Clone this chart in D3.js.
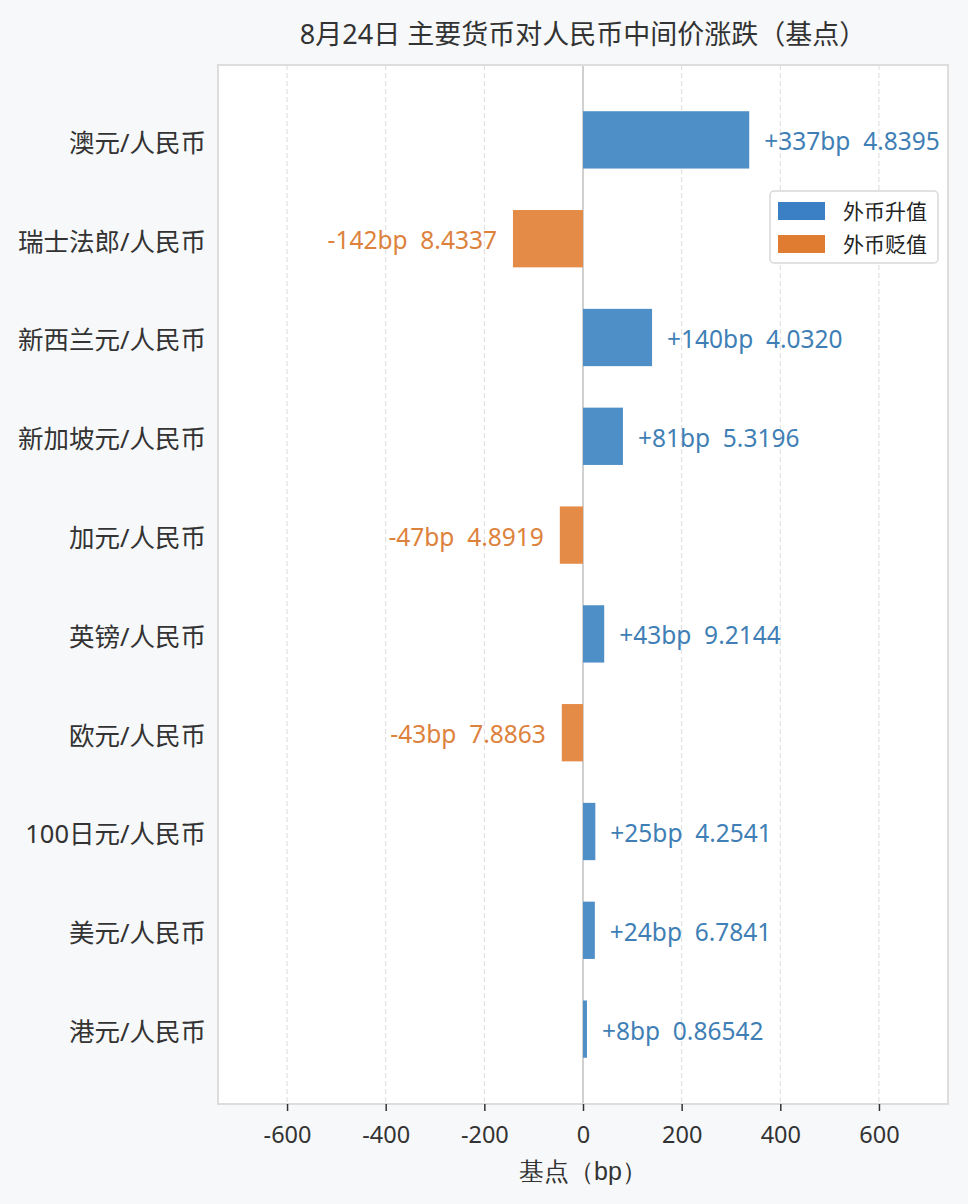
<!DOCTYPE html>
<html>
<head>
<meta charset="utf-8">
<script src="https://cdn.jsdelivr.net/npm/d3@7"></script>
<style>
  body { margin: 0; background: #f7f8fa; }
  svg { display: block; font-family: "Noto Sans", "Noto Sans CJK SC", sans-serif; }
</style>
</head>
<body>
<div id="wrapper"></div>
<script>
// data
let pairs = [
  "澳元/人民币", "瑞士法郎/人民币", "新西兰元/人民币", "新加坡元/人民币", "加元/人民币",
  "英镑/人民币", "欧元/人民币", "100日元/人民币", "美元/人民币", "港元/人民币"
];
let changes = [337, -142, 140, 81, -47, 43, -43, 25, 24, 8];
let midRates = ["4.8395", "8.4337", "4.0320", "5.3196", "4.8919", "9.2144", "7.8863", "4.2541", "6.7841", "0.86542"];
let xTicks = [-600, -400, -200, 0, 200, 400, 600];
let legendLabels = ["外币升值", "外币贬值"];

let dimensions = {
  width: 968,
  height: 1204,
  margin: { top: 65, right: 20, bottom: 100, left: 218 }
};
dimensions.boundedWidth = dimensions.width - dimensions.margin.left - dimensions.margin.right;
dimensions.boundedHeight = dimensions.height - dimensions.margin.top - dimensions.margin.bottom;

let colors = {
  upBar: "#4f8fc7", downBar: "#e48b48",
  upLegend: "#3b7fc4", downLegend: "#e07b32",
  upText: "#3f7fb5", downText: "#dd823c"
};

let dataSet = pairs.map((p, i) => ({ pair: p, change: changes[i], rate: midRates[i] }));

let wrapper = d3.select("#wrapper").append("svg")
  .attr("width", dimensions.width)
  .attr("height", dimensions.height);

wrapper.append("rect")
  .attr("width", dimensions.width).attr("height", dimensions.height)
  .attr("fill", "#f7f8fa");

let bounds = wrapper.append("g")
  .attr("transform", `translate(${dimensions.margin.left},${dimensions.margin.top})`);

let xScale = d3.scaleLinear()
  .domain([-740, 740])
  .range([0, dimensions.boundedWidth]);

let yScale = d3.scaleBand()
  .domain(pairs)
  .range([0, dimensions.boundedHeight])
  .paddingInner(0.42)
  .paddingOuter(0.468);

// plot background
bounds.append("rect")
  .attr("width", dimensions.boundedWidth)
  .attr("height", dimensions.boundedHeight)
  .attr("fill", "#ffffff");

// dashed grid
bounds.append("g")
  .selectAll("line")
  .data(xTicks.filter(t => t !== 0))
  .join("line")
  .attr("x1", d => xScale(d)).attr("x2", d => xScale(d))
  .attr("y1", 0).attr("y2", dimensions.boundedHeight)
  .attr("stroke", "#dcdcdc")
  .attr("stroke-width", 1)
  .attr("stroke-dasharray", "5,3");

// zero line
bounds.append("line")
  .attr("x1", xScale(0)).attr("x2", xScale(0))
  .attr("y1", 0).attr("y2", dimensions.boundedHeight)
  .attr("stroke", "#d0d0d0")
  .attr("stroke-width", 2);

// bars
bounds.append("g")
  .selectAll("rect")
  .data(dataSet)
  .join("rect")
  .attr("x", d => xScale(Math.min(0, d.change)))
  .attr("y", d => yScale(d.pair))
  .attr("width", d => Math.abs(xScale(d.change) - xScale(0)))
  .attr("height", yScale.bandwidth())
  .attr("fill", d => d.change >= 0 ? colors.upBar : colors.downBar);

// value labels
bounds.append("g")
  .selectAll("text")
  .data(dataSet)
  .join("text")
  .attr("x", d => xScale(d.change) + (d.change >= 0 ? 15 : -16))
  .attr("y", d => yScale(d.pair) + yScale.bandwidth() / 2)
  .attr("dy", "0.43em")
  .attr("text-anchor", d => d.change >= 0 ? "start" : "end")
  .attr("font-size", 24.5)
  .attr("fill", d => d.change >= 0 ? colors.upText : colors.downText)
  .style("white-space", "pre")
  .text(d => `${d.change >= 0 ? "+" : ""}${d.change}bp  ${d.rate}`);

// frame
bounds.append("rect")
  .attr("width", dimensions.boundedWidth)
  .attr("height", dimensions.boundedHeight)
  .attr("fill", "none")
  .attr("stroke", "#dddddd")
  .attr("stroke-width", 2);

// x axis
let xAxisGenerator = d3.axisBottom(xScale)
  .tickValues(xTicks)
  .tickFormat(d => String(d))
  .tickSize(7)
  .tickPadding(15);
let xAxis = bounds.append("g")
  .attr("transform", `translate(0,${dimensions.boundedHeight})`)
  .call(xAxisGenerator);
xAxis.select(".domain").remove();
xAxis.selectAll(".tick line").attr("stroke", "#333").attr("stroke-width", 1.5);
xAxis.selectAll(".tick text")
  .attr("font-size", 23.5)
  .attr("fill", "#333")
  .attr("font-family", "Noto Sans, Noto Sans CJK SC");

xAxis.append("text")
  .attr("x", xScale(0))
  .attr("y", 76)
  .attr("text-anchor", "middle")
  .attr("fill", "#333")
  .attr("font-size", 25)
  .text("基点（bp）");

// y axis labels (no ticks)
bounds.append("g")
  .selectAll("text")
  .data(pairs)
  .join("text")
  .attr("x", -12)
  .attr("y", d => yScale(d) + yScale.bandwidth() / 2)
  .attr("dy", "0.47em")
  .attr("text-anchor", "end")
  .attr("fill", "#333")
  .attr("font-size", 25.5)
  .text(d => d);

// title
wrapper.append("text")
  .attr("x", dimensions.margin.left + xScale(0))
  .attr("y", 44)
  .attr("text-anchor", "middle")
  .attr("fill", "#333")
  .attr("font-size", 27)
  .text("8月24日 主要货币对人民币中间价涨跌（基点）");

// legend
let legend = bounds.append("g")
  .attr("transform", `translate(${770 - dimensions.margin.left},${191 - dimensions.margin.top})`);
legend.append("rect")
  .attr("width", 168).attr("height", 72)
  .attr("rx", 4)
  .attr("fill", "#ffffff")
  .attr("stroke", "#d8d8d8")
  .attr("stroke-width", 1.5);
let legendItems = legend.selectAll("g")
  .data(legendLabels)
  .join("g")
  .attr("transform", (d, i) => `translate(8,${11 + i * 33})`);
legendItems.append("rect")
  .attr("width", 47).attr("height", 18)
  .attr("fill", (d, i) => i === 0 ? colors.upLegend : colors.downLegend);
legendItems.append("text")
  .attr("x", 65).attr("y", 9)
  .attr("dy", "0.4em")
  .attr("font-size", 21)
  .attr("fill", "#222")
  .text(d => d);
</script>
</body>
</html>
